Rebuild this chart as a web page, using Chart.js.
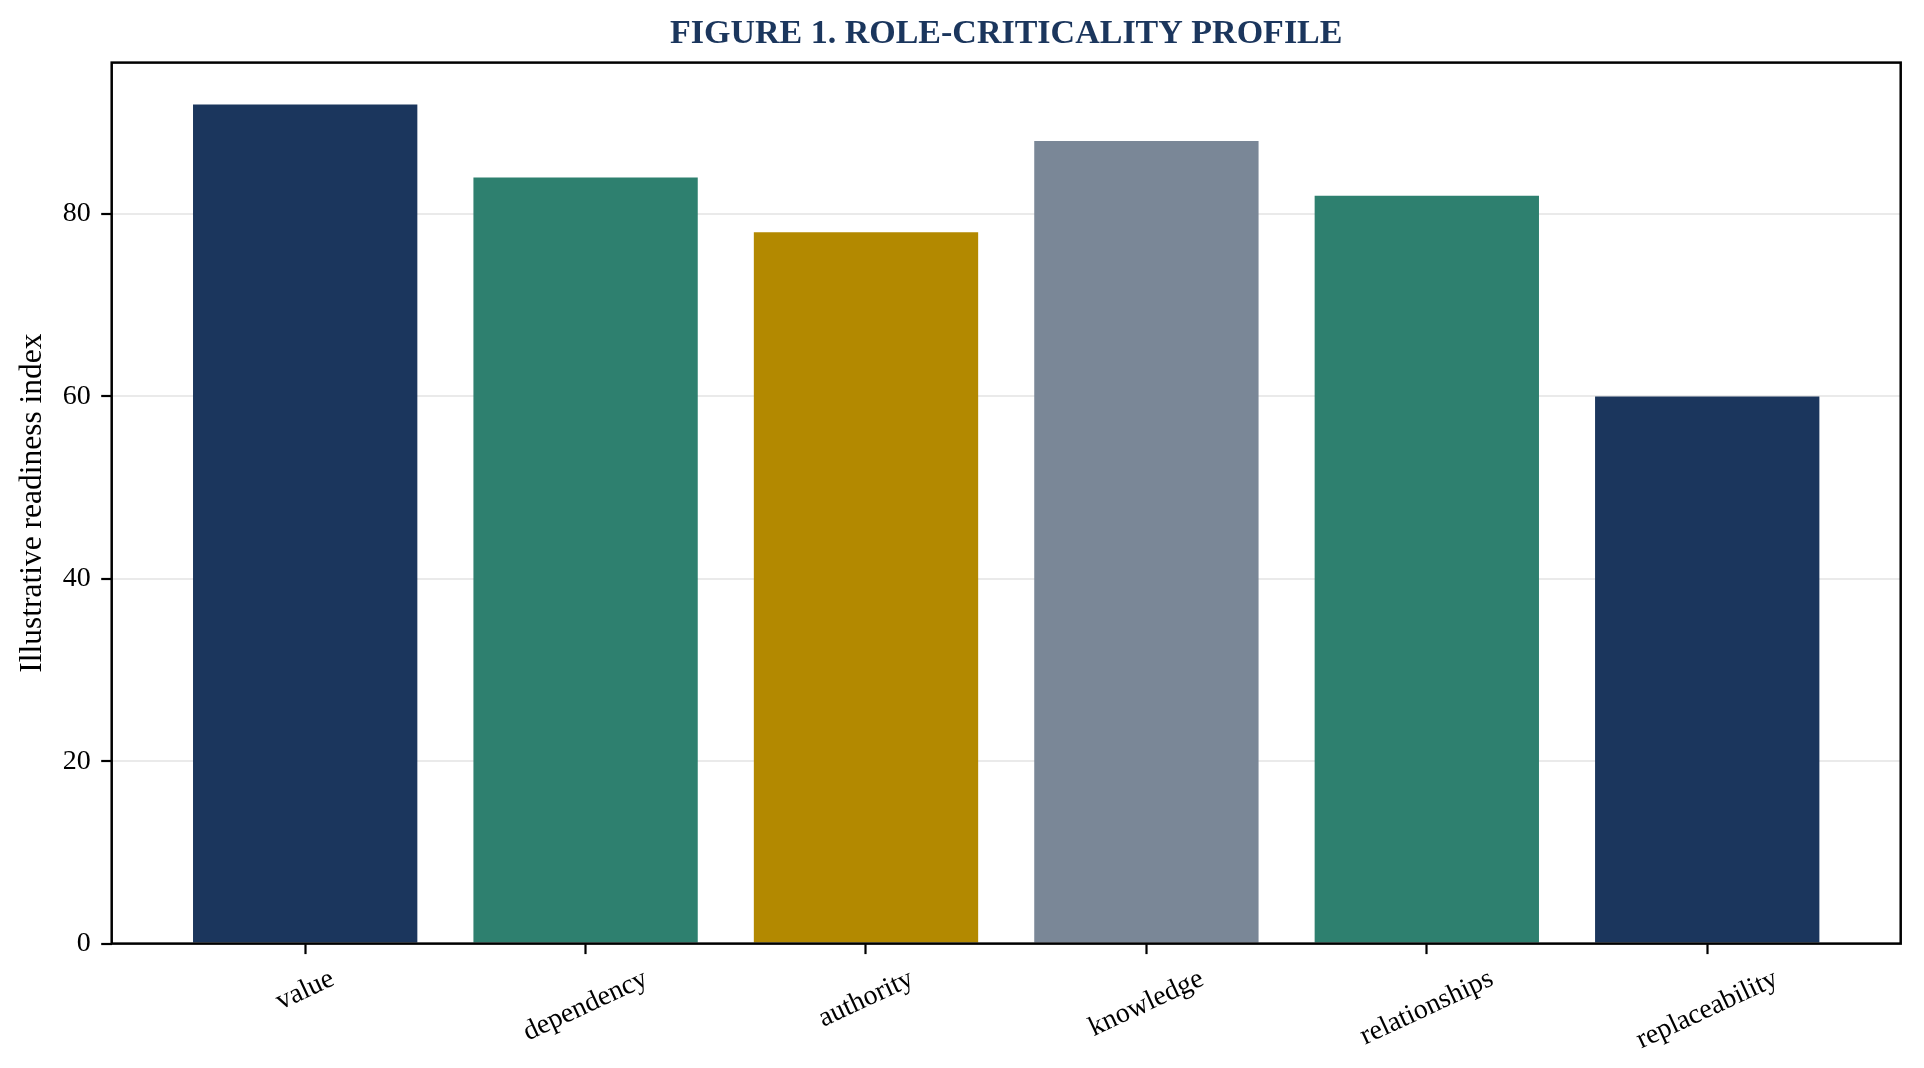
<!DOCTYPE html>
<html>
<head>
<meta charset="utf-8">
<title>Role-criticality profile</title>
<script src="https://cdn.jsdelivr.net/npm/chart.js@4.4.1/dist/chart.umd.min.js"></script>
<style>
  html, body { margin: 0; padding: 0; background: #fff; overflow: hidden; }
  #wrap { width: 1924px; height: 1068px; }
</style>
</head>
<body>
<div id="wrap"><canvas id="chart"></canvas></div>
<script>
// data
const categories = ["value", "dependency", "authority", "knowledge", "relationships", "replaceability"];
const readiness = [92, 84, 78, 88, 82, 60];
const barColors = ["#1b365d", "#2e806f", "#b38900", "#7a8797", "#2e806f", "#1b365d"];
const yTicks = [0, 20, 40, 60, 80];

const titleText = "FIGURE 1. ROLE-CRITICALITY PROFILE";
const serif = '"Liberation Serif", "Times New Roman", serif';

// box round the plot + centred title + rotated category labels
const framePlugin = {
  id: "frame",
  afterDraw(chart) {
    const { ctx, chartArea: a } = chart;
    const xs = chart.scales.x;

    ctx.save();
    ctx.strokeStyle = "#000";
    ctx.lineWidth = 2.5;
    ctx.strokeRect(a.left, a.top, a.right - a.left, a.bottom - a.top);

    // title, centred over the axes
    ctx.fillStyle = "#1b365d";
    ctx.font = "bold 34px " + serif;
    ctx.textAlign = "center";
    ctx.textBaseline = "middle";
    ctx.fillText(titleText, (a.left + a.right) / 2, 34);

    // category labels, rotated 25deg and centred under their tick
    const ang = 25 * Math.PI / 180;
    ctx.font = "28px " + serif;
    ctx.fillStyle = "#000";
    const h = 28 * 1.1;
    const yTop = a.bottom + 20;
    categories.forEach((c, i) => {
      const x = xs.getPixelForValue(i);
      const w = ctx.measureText(c).width;
      const boxH = w * Math.sin(ang) + h * Math.cos(ang);
      ctx.save();
      ctx.translate(x, yTop + boxH / 2);
      ctx.rotate(-ang);
      ctx.fillText(c, 0, 0);
      ctx.restore();
    });
    ctx.restore();
  }
};

new Chart(document.getElementById("chart"), {
  type: "bar",
  data: {
    datasets: [{
      data: readiness.map((v, i) => ({ x: i, y: v })),
      backgroundColor: barColors,
      borderWidth: 0,
      categoryPercentage: 1,
      barPercentage: 0.8
    }]
  },
  options: {
    responsive: true,
    maintainAspectRatio: false,
    devicePixelRatio: 1,
    animation: false,
    layout: { padding: { top: 62.6, right: 23.3, bottom: 0, left: 0 } },
    plugins: {
      legend: { display: false },
      title: { display: false },
      tooltip: { enabled: false }
    },
    scales: {
      x: {
        type: "linear",
        min: -0.69,
        max: 5.69,
        offset: false,
        afterBuildTicks: axis => { axis.ticks = categories.map((c, i) => ({ value: i })); },
        afterFit: axis => { axis.height = 1068 - 943.6; },
        border: { display: false },
        grid: {
          offset: false,
          drawOnChartArea: false,
          drawTicks: true,
          tickLength: 10.5,
          tickWidth: 2.2,
          tickColor: "#000"
        },
        ticks: { display: false }
      },
      y: {
        min: 0,
        max: 96.6,
        z: 1,
        afterBuildTicks: axis => { axis.ticks = yTicks.map(v => ({ value: v })); },
        afterFit: axis => { axis.width = 111.7; },
        border: { display: false },
        grid: {
          color: "rgba(160,160,160,0.22)",
          lineWidth: 2,
          drawTicks: true,
          tickLength: 10.5,
          tickWidth: 2.2,
          tickColor: "#000"
        },
        ticks: {
          padding: 10.5,
          color: "#000",
          font: { family: serif, size: 28 }
        },
        title: {
          display: true,
          text: "Illustrative readiness index",
          color: "#000",
          font: { family: serif, size: 31.5 },
          padding: { top: 13.5, bottom: 0 }
        }
      }
    }
  },
  plugins: [framePlugin]
});
</script>
</body>
</html>
